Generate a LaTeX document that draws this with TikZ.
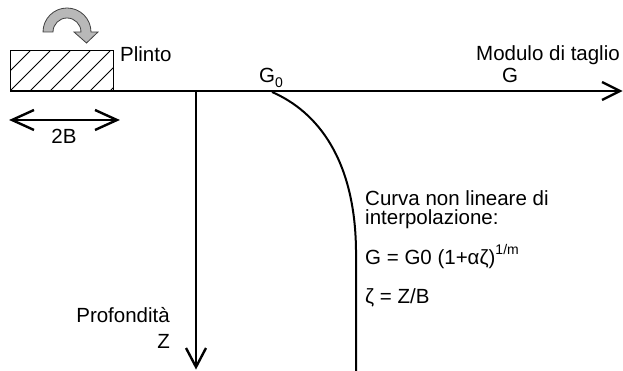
\documentclass[tikz,border=0pt]{standalone}
\usepackage{fontspec}
\setmainfont{Liberation Sans}
\begin{document}
\begin{tikzpicture}[x=1pt,y=-1pt,line join=miter,
  lbl/.style={inner sep=0pt,font=\fontsize{20.5}{20.5}\selectfont},
  axis/.style={line width=2.4pt},
  hatchline/.style={line width=0.8pt},
  rot/.style={fill=black!28,draw=black!75,line width=0.8pt}]
\useasboundingbox (0,0) rectangle (623,371);
% coordinates
\coordinate (O) at (10,91);
\coordinate (E) at (620,91);
\coordinate (V0) at (196,91);
\coordinate (V1) at (196,367);
\coordinate (G0p) at (272,92);
\coordinate (C1) at (356,250);
\coordinate (C2) at (356,371);
\coordinate (L) at (12,120);
\coordinate (R) at (117,120);
% footing
\node[draw,line width=1.1pt,minimum width=103pt,minimum height=40pt,inner sep=0pt,anchor=south west] (plinto) at (10,91) {};
\begin{scope}
\clip (10,51) rectangle (113,91);
\foreach \s in {-30,-10,...,130}
  \draw[hatchline] (\s,91) -- (\s+40,51);
\end{scope}
% rotation arrow
\path[rot] (43,32) arc[start angle=180,end angle=360,radius=24] -- (98,32) -- (86.5,43) -- (74,32) -- (81,32) arc[start angle=360,end angle=180,radius=14] -- cycle;
% axes
\draw[axis] (O) -- (E);
\draw[axis] (E) ++(-18,-9) -- (E) -- ++(-18,9);
\draw[axis] (V0) -- (V1);
\draw[axis] (V1) ++(-10,-19) -- (V1) -- ++(10,-19);
% 2B
\draw[axis] (L) -- (R);
\draw[axis] (L) ++(22,-10) -- (L) -- ++(22,10);
\draw[axis] (R) ++(-22,-10) -- (R) -- ++(-22,10);
% curve
\draw[line width=2pt] (G0p) .. controls (318,112) and (355,160) .. (C1) -- (C2);
% labels
\node[lbl,anchor=base west] (tplinto) at (120,62) {Plinto};
\node[lbl,anchor=base west] (tg0) at (259,83) {G\raisebox{-0.22em}{\fontsize{14}{14}\selectfont 0}};
\node[lbl,anchor=base] (tg) at (510,83) {G};
\node[lbl,anchor=base west] (tmod) at (476,61) {Modulo di taglio};
\node[lbl,anchor=base] (t2b) at (64,144) {2B};
\node[lbl,anchor=base west,align=left,font=\fontsize{20.5}{19.5}\selectfont] (tc1) at (365,225) {Curva non lineare di\\interpolazione:};
\node[lbl,anchor=base west] (tf) at (365,264) {G = G0 (1+αζ)\raisebox{0.45em}{\fontsize{14}{14}\selectfont 1/m}};
\node[lbl,anchor=base west] (tz) at (365,303) {ζ = Z/B};
\node[lbl,anchor=base east] (tprof) at (170,322) {Profondità};
\node[lbl,anchor=base east] (tZ) at (170,348) {Z};
\end{tikzpicture}
\end{document}
